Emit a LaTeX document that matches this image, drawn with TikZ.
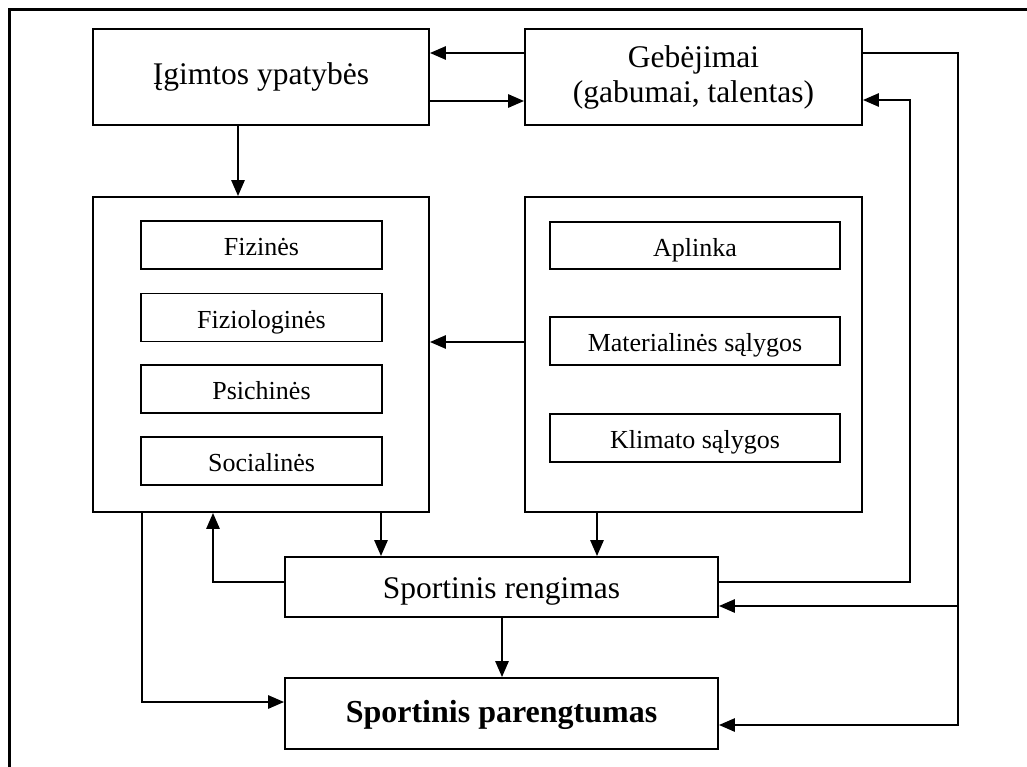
\documentclass[tikz,border=0pt]{standalone}
\usepackage{fontspec}
\setmainfont{Liberation Serif}
\usetikzlibrary{arrows.meta}
\begin{document}
\begin{tikzpicture}[x=1pt,y=-1pt,
  box/.style={draw, line width=1.7pt, inner sep=0pt, align=center},
  bigtext/.style={font=\fontsize{31.5}{35}\selectfont},
  smalltext/.style={font=\fontsize{26}{30}\selectfont, text height=23pt, text depth=2pt},
  arr/.style={line width=2.6pt, -{Triangle[length=16pt,width=13pt]}},
  link/.style={line width=2.6pt},
  frame/.style={line width=3pt}]
\useasboundingbox (0,0) rectangle (1027,767);

% outer frame (top and left sides only)
\draw[frame] (9,767) -- (9,10) -- (1027,10);

% top row
\node[box, bigtext, minimum width=336pt, minimum height=96pt] (igim) at (261,77) {Įgimtos ypatybės};
\node[box, bigtext, minimum width=337pt, minimum height=96pt] (geb) at (693.5,77) {Gebėjimai\\(gabumai, talentas)};

% personal factors
\node[box, minimum width=336pt, minimum height=315pt] (pers) at (261,354.5) {};
\node[box, smalltext, minimum width=241pt, minimum height=48pt] (fiz) at (261.5,245) {Fizinės};
\node[box, smalltext, minimum width=241pt, minimum height=48pt] (fiziol) at (261.5,317.5) {Fiziologinės};
\node[box, smalltext, minimum width=241pt, minimum height=48pt] (psich) at (261.5,389) {Psichinės};
\node[box, smalltext, minimum width=241pt, minimum height=48pt] (soc) at (261.5,461) {Socialinės};

% environmental factors
\node[box, minimum width=337pt, minimum height=315pt] (env) at (693.5,354.5) {};
\node[box, smalltext, minimum width=290pt, minimum height=47pt] (apl) at (695,245.5) {Aplinka};
\node[box, smalltext, minimum width=290pt, minimum height=48pt] (mat) at (695,341) {Materialinės sąlygos};
\node[box, smalltext, minimum width=290pt, minimum height=48pt] (klim) at (695,438) {Klimato sąlygos};

% training and readiness
\node[box, bigtext, text height=25pt, text depth=3pt, minimum width=433pt, minimum height=60pt] (sr) at (501.5,587) {Sportinis rengimas};
\node[box, font=\fontsize{32}{36}\selectfont\bfseries, text height=24pt, text depth=6pt, minimum width=433pt, minimum height=71pt] (sp) at (501.5,713.5) {Sportinis parengtumas};

% connectors
\draw[arr] (geb.west |- 0,53) -- (igim.east |- 0,53);
\draw[arr] (igim.east |- 0,101) -- (geb.west |- 0,101);
\draw[arr] (igim.south -| 238,0) -- (pers.north -| 238,0);
\draw[arr] (env.west |- 0,342) -- (pers.east |- 0,342);
\draw[arr] (pers.south -| 381,0) -- (sr.north -| 381,0);
\draw[arr] (env.south -| 597,0) -- (sr.north -| 597,0);
\draw[arr] (sr.west |- 0,582) -| (pers.south -| 213,0);
\draw[arr] (sr.south -| 502,0) -- (sp.north -| 502,0);
\draw[arr] (pers.south -| 142,0) |- (sp.west |- 0,702);
\draw[arr] (sr.east |- 0,582) -| (910,100) -- (geb.east |- 0,100);
\coordinate (rbend) at (958,606);
\draw[link] (geb.east |- 0,53) -| (rbend);
\draw[arr] (rbend) -- (sr.east |- 0,606);
\draw[arr] (rbend) |- (sp.east |- 0,725);
\end{tikzpicture}
\end{document}
